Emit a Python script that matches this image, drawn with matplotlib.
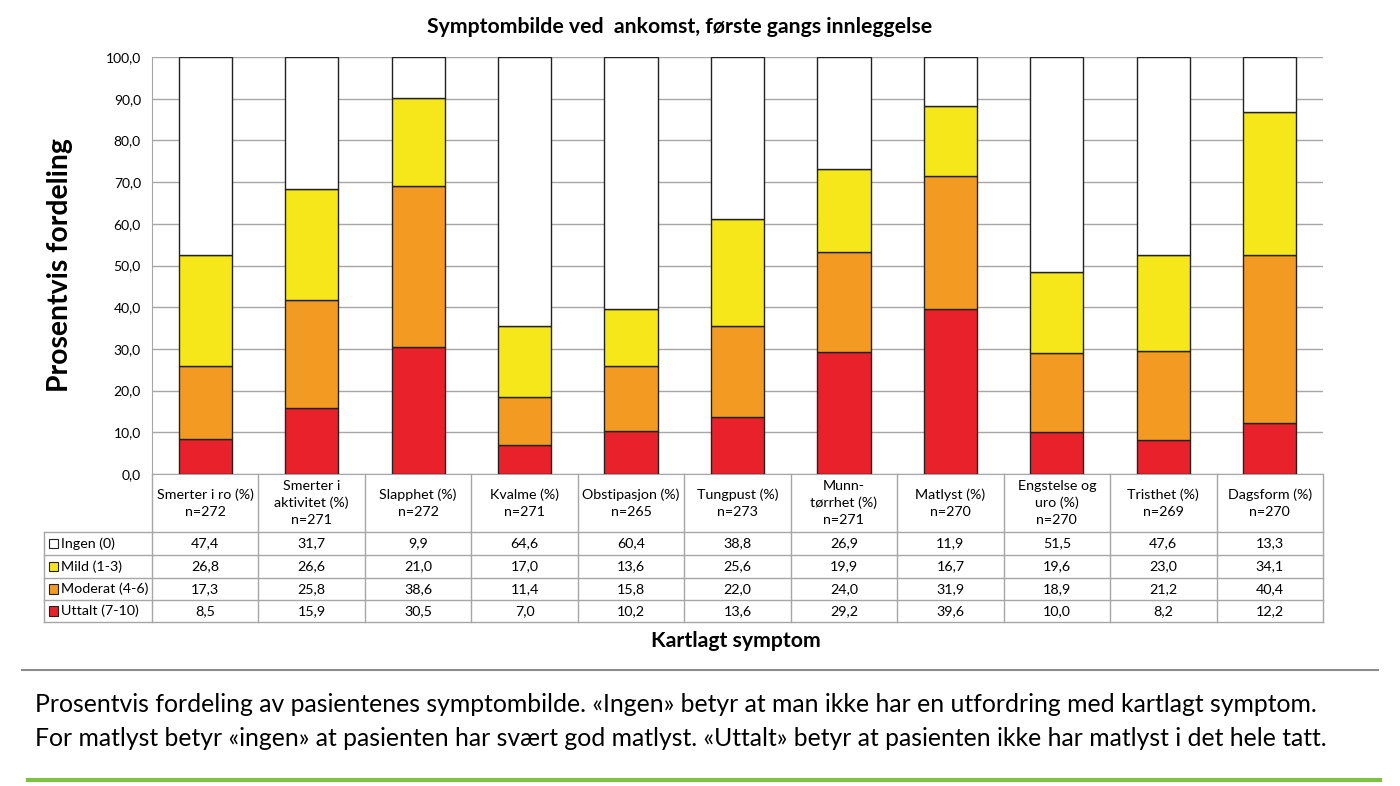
import numpy as np
import matplotlib.pyplot as plt
from matplotlib.patches import Rectangle
from matplotlib.transforms import blended_transform_factory

plt.rcParams['font.family'] = ['Lato', 'DejaVu Sans']

symptoms = ['Smerter i ro (%)\nn=272', 'Smerter i\naktivitet (%)\nn=271', 'Slapphet (%)\nn=272',
            'Kvalme (%)\nn=271', 'Obstipasjon (%)\nn=265', 'Tungpust (%)\nn=273',
            'Munn-\ntørrhet (%)\nn=271', 'Matlyst (%)\nn=270', 'Engstelse og\nuro (%)\nn=270',
            'Tristhet (%)\nn=269', 'Dagsform (%)\nn=270']
ingen = [47.4, 31.7, 9.9, 64.6, 60.4, 38.8, 26.9, 11.9, 51.5, 47.6, 13.3]
mild = [26.8, 26.6, 21.0, 17.0, 13.6, 25.6, 19.9, 16.7, 19.6, 23.0, 34.1]
moderat = [17.3, 25.8, 38.6, 11.4, 15.8, 22.0, 24.0, 31.9, 18.9, 21.2, 40.4]
uttalt = [8.5, 15.9, 30.5, 7.0, 10.2, 13.6, 29.2, 39.6, 10.0, 8.2, 12.2]

series_names = ['Ingen (0)', 'Mild (1-3)', 'Moderat (4-6)', 'Uttalt (7-10)']
series_vals = [ingen, mild, moderat, uttalt]
colors = ['#ffffff', '#f5e71a', '#f39a22', '#e8212a']

W, H = 1400, 786
fig = plt.figure(figsize=(14, 7.86), dpi=100)
ax = fig.add_axes([152 / W, 1 - 474 / H, (1323 - 152) / W, (474 - 57) / H])

x = np.arange(len(symptoms))
bottom = np.zeros(len(symptoms))
# stack from the bottom: Uttalt, Moderat, Mild, Ingen
for vals, col in zip(series_vals[::-1], colors[::-1]):
    ax.bar(x, vals, bottom=bottom, width=0.5, color=col, edgecolor='#222222', linewidth=1.0, zorder=3)
    bottom += np.array(vals)

ax.set_xlim(-0.5, len(symptoms) - 0.5)
ax.set_ylim(0, 100)
ax.set_yticks(np.arange(0, 101, 10))
ax.set_yticklabels([f'{v:.1f}'.replace('.', ',') for v in np.arange(0, 101, 10)], fontsize=10)
ax.set_xticks([])
ax.grid(axis='y', color='#a6a6a6', linewidth=1.0, zorder=0)
for s in ['top', 'right']:
    ax.spines[s].set_visible(False)
ax.spines['left'].set_color('#a6a6a6')
ax.spines['bottom'].set_color('#a6a6a6')
ax.tick_params(axis='y', length=0, pad=8)

# data table under the plot
tr = blended_transform_factory(ax.transData, ax.transAxes)
ah = 474 - 57
rows_y = [0, -(532 - 474) / ah, -(555 - 474) / ah, -(578 - 474) / ah, -(600 - 474) / ah, -(622 - 474) / ah]
left = -0.5 - 108 / 106.5
lc = '#a6a6a6'
for i in range(len(symptoms) + 1):
    ax.plot([i - 0.5, i - 0.5], [0, rows_y[-1]], transform=tr, color=lc, lw=1.0, clip_on=False)
ax.plot([left, left], [rows_y[1], rows_y[-1]], transform=tr, color=lc, lw=1.0, clip_on=False)
for j, yv in enumerate(rows_y[1:]):
    ax.plot([left, len(symptoms) - 0.5], [yv, yv], transform=tr, color=lc, lw=1.0, clip_on=False)

for i, lab in enumerate(symptoms):
    ax.text(i, (rows_y[0] + rows_y[1]) / 2, lab, transform=tr, ha='center', va='center',
            fontsize=10.3, linespacing=1.45, clip_on=False)

for j, (name, vals, col) in enumerate(zip(series_names, series_vals, colors)):
    yc = (rows_y[j + 1] + rows_y[j + 2]) / 2
    for i, v in enumerate(vals):
        ax.text(i, yc, f'{v:.1f}'.replace('.', ','), transform=tr, ha='center', va='center',
                fontsize=10.3, clip_on=False)
    ax.add_patch(Rectangle((left + 0.045, yc - 0.0115), 0.085, 0.023, transform=tr,
                           facecolor=col, edgecolor='#222222', lw=0.8, clip_on=False))
    ax.text(left + 0.16, yc, name, transform=tr, ha='left', va='center', fontsize=10.3, clip_on=False)

fig.text(680 / W, 1 - 27 / H, 'Symptombilde ved  ankomst, første gangs innleggelse',
         ha='center', va='center', fontsize=15.3, fontweight='bold')
fig.text(60 / W, 1 - 265 / H, 'Prosentvis fordeling', rotation=90, ha='center', va='center',
         fontsize=20.4, fontweight='bold')
fig.text(736 / W, 1 - 641 / H, 'Kartlagt symptom', ha='center', va='center',
         fontsize=15.3, fontweight='bold')

fig.add_artist(plt.Line2D([22 / W, 1378 / W], [1 - 670 / H, 1 - 670 / H], color='#8c8c8c', lw=1.5))
fig.add_artist(plt.Line2D([28 / W, 1380 / W], [1 - 780 / H, 1 - 780 / H], color='#7dc242', lw=3))

fig.text(35 / W, 1 - 705 / H,
         'Prosentvis fordeling av pasientenes symptombilde. «Ingen» betyr at man ikke har en utfordring med kartlagt symptom.',
         ha='left', va='center', fontsize=17.8)
fig.text(35 / W, 1 - 738 / H,
         'For matlyst betyr «ingen» at pasienten har svært god matlyst. «Uttalt» betyr at pasienten ikke har matlyst i det hele tatt.',
         ha='left', va='center', fontsize=17.8)

fig.savefig('out.png', dpi=100)
